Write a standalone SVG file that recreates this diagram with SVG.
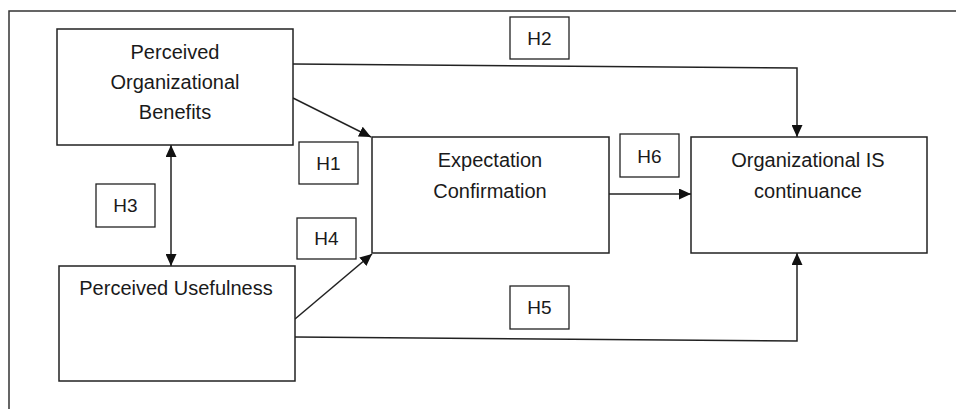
<svg xmlns="http://www.w3.org/2000/svg" width="956" height="409" viewBox="0 0 956 409">
<style>
.box{fill:#fff;stroke:#222;stroke-width:1.5}
.lbl{fill:#fff;stroke:#222;stroke-width:1.3}
.t{font-family:"Liberation Sans",Arial,sans-serif;font-size:20px;fill:#1a1a1a;text-anchor:middle}
.h{font-family:"Liberation Sans",Arial,sans-serif;font-size:19px;fill:#1a1a1a;text-anchor:middle}
.c{fill:none;stroke:#222;stroke-width:1.5}
</style>
<defs>
<marker id="ah" markerUnits="userSpaceOnUse" markerWidth="12" markerHeight="11" viewBox="0 0 12 11" refX="12" refY="5.5" orient="auto-start-reverse">
<path d="M0,0 L12,5.5 L0,11 Z" fill="#111"/>
</marker>
</defs>
<rect width="956" height="409" fill="#fff"/>
<g id="frame"><path d="M9,409 V11 H956" fill="none" stroke="#333" stroke-width="1.5"/></g>
<g id="connectors">
<path class="c" d="M293,64 L797,68 L797,137" marker-end="url(#ah)"/>
<path class="c" d="M293,98 L371,137" marker-end="url(#ah)"/>
<path class="c" d="M171,145 L171,266" marker-start="url(#ah)" marker-end="url(#ah)"/>
<path class="c" d="M295,319 L372,254" marker-end="url(#ah)"/>
<path class="c" d="M295,337 L797,341 L797,253" marker-end="url(#ah)"/>
<path class="c" d="M609,194 L691,194" marker-end="url(#ah)"/>
</g>
<g id="node-pob">
<rect class="box" x="57" y="29" width="236" height="116"/>
<text class="t" x="175" y="59">Perceived</text>
<text class="t" x="175" y="89">Organizational</text>
<text class="t" x="175" y="119">Benefits</text>
</g>
<g id="node-ec">
<rect class="box" x="372" y="137" width="237" height="116"/>
<text class="t" x="490" y="167">Expectation</text>
<text class="t" x="490" y="198">Confirmation</text>
</g>
<g id="node-oic">
<rect class="box" x="691" y="137" width="236" height="116"/>
<text class="t" x="808" y="167">Organizational IS</text>
<text class="t" x="808" y="198">continuance</text>
</g>
<g id="node-pu">
<rect class="box" x="59" y="266" width="236" height="115"/>
<text class="t" x="176" y="295">Perceived Usefulness</text>
</g>
<g id="label-h2"><rect class="lbl" x="510" y="17" width="59" height="42"/><text class="h" x="539.5" y="45">H2</text></g>
<g id="label-h1"><rect class="lbl" x="299" y="142" width="59" height="42"/><text class="h" x="328.5" y="170">H1</text></g>
<g id="label-h6"><rect class="lbl" x="620" y="134" width="59" height="43"/><text class="h" x="649.5" y="163">H6</text></g>
<g id="label-h3"><rect class="lbl" x="96" y="184" width="59" height="43"/><text class="h" x="125.5" y="212">H3</text></g>
<g id="label-h4"><rect class="lbl" x="297" y="218" width="59" height="41"/><text class="h" x="326.5" y="245">H4</text></g>
<g id="label-h5"><rect class="lbl" x="510" y="286" width="59" height="43"/><text class="h" x="539.5" y="314">H5</text></g>
</svg>
